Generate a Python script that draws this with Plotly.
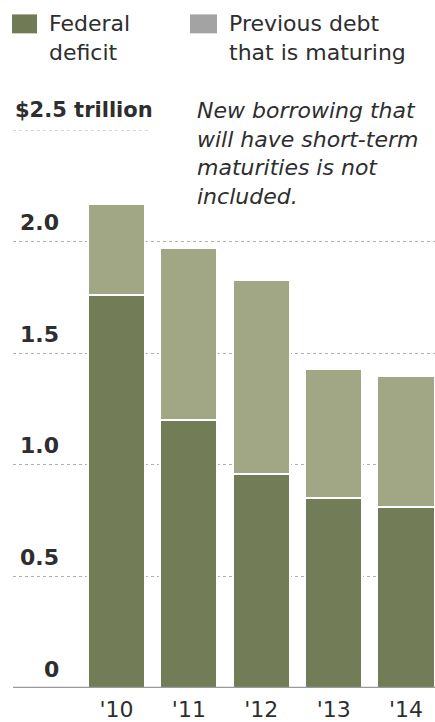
import plotly.graph_objects as go

years = ["'10", "'11", "'12", "'13", "'14"]
federal_deficit = [1.76, 1.20, 0.96, 0.85, 0.81]
previous_debt_maturing = [0.41, 0.77, 0.87, 0.58, 0.59]
y_ticks = [0, 0.5, 1.0, 1.5, 2.0]
y_tick_labels = ["0", "0.5", "1.0", "1.5", "2.0"]

FONT = "DejaVu Sans"
TXT = "#2e2e2e"
DARK = "#727c57"
LIGHT = "#a1a685"

W, H = 435, 722
L, R, T, B = 13, 0, 130, 32
PW, PH = W - L - R, H - T - B


def px_x(px):
    return (px - L) / PW


def px_y(py):
    return (H - B - py) / PH


fig = go.Figure()
fig.add_trace(go.Bar(x=years, y=federal_deficit, name="Federal deficit",
                     marker=dict(color=DARK, line=dict(color="white", width=2)),
                     width=0.79))
fig.add_trace(go.Bar(x=years, y=previous_debt_maturing, name="Previous debt that is maturing",
                     marker=dict(color=LIGHT, line=dict(color="white", width=2)),
                     width=0.79))

shapes = []
# baseline
shapes.append(dict(type="line", xref="paper", yref="y", x0=0, x1=1, y0=0, y1=0,
                   line=dict(color="#9a9a9a", width=2.5), layer="above"))
# short 2.5 gridline under unit label
shapes.append(dict(type="line", xref="paper", yref="y", x0=0, x1=px_x(150), y0=2.5, y1=2.5,
                   line=dict(color="#b0b0b0", width=1, dash="dot")))
# legend squares
shapes.append(dict(type="rect", xref="paper", yref="paper", x0=px_x(12), x1=px_x(37),
                   y0=px_y(33), y1=px_y(14), fillcolor="#707a55", line=dict(width=0)))
shapes.append(dict(type="rect", xref="paper", yref="paper", x0=px_x(190), x1=px_x(217),
                   y0=px_y(33), y1=px_y(14), fillcolor="#a3a3a3", line=dict(width=0)))

annotations = []
for v, lab in zip(y_ticks, y_tick_labels):
    annotations.append(dict(xref="paper", yref="y", x=px_x(61), y=v, xanchor="right",
                            yanchor="middle", yshift=19, text=lab, showarrow=False,
                            font=dict(family=FONT, size=22, color=TXT, weight="bold")))
annotations.append(dict(xref="paper", yref="paper", x=0, y=px_y(110), xanchor="left",
                        yanchor="middle", text="$2.5 trillion", showarrow=False,
                        font=dict(family=FONT, size=21, color=TXT, weight="bold")))
annotations.append(dict(xref="paper", yref="paper", x=px_x(195), y=px_y(154), xanchor="left",
                        yanchor="middle", align="left",
                        text="<i>New borrowing that<br>will have short-term<br>maturities is not<br>included.</i>",
                        showarrow=False, font=dict(family=FONT, size=22, color=TXT)))
annotations.append(dict(xref="paper", yref="paper", x=px_x(47), y=px_y(38), xanchor="left",
                        yanchor="middle", align="left", text="Federal<br>deficit",
                        showarrow=False, font=dict(family=FONT, size=22, color=TXT)))
annotations.append(dict(xref="paper", yref="paper", x=px_x(227), y=px_y(38), xanchor="left",
                        yanchor="middle", align="left", text="Previous debt<br>that is maturing",
                        showarrow=False, font=dict(family=FONT, size=22, color=TXT)))

fig.update_layout(
    width=W, height=H,
    margin=dict(l=L, r=R, t=T, b=B, pad=0),
    paper_bgcolor="white", plot_bgcolor="white",
    barmode="stack", showlegend=False,
    shapes=shapes, annotations=annotations,
    xaxis=dict(type="category", range=[-1.43, 4.40], showgrid=False, zeroline=False,
               showline=False, ticks="", tickfont=dict(family=FONT, size=22, color=TXT),
               ticklabelstandoff=6),
    yaxis=dict(range=[0, 2.5], tickvals=[0.5, 1.0, 1.5, 2.0], showticklabels=False,
               showgrid=True, gridcolor="#b0b0b0", gridwidth=1, griddash="dot",
               zeroline=False, showline=False, ticks=""),
)

fig.write_html("out.html")
